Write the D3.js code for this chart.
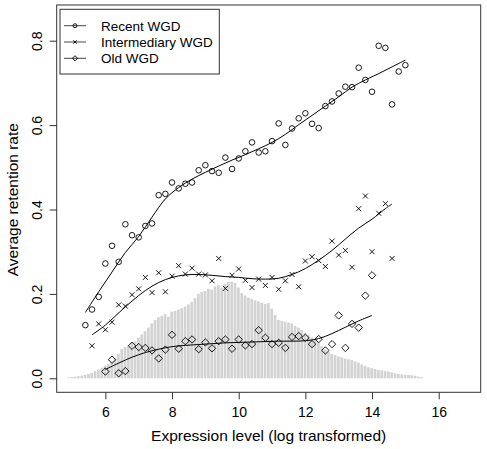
<!DOCTYPE html>
<html><head><meta charset="utf-8">
<script src="https://cdn.jsdelivr.net/npm/d3@7"></script>
<style>body{margin:0;background:#fff}svg{display:block}text{font-family:"Liberation Sans",Arial,sans-serif;fill:#000}</style>
</head><body><svg id="c" width="487" height="449"></svg>
<script>
// ---- data ----
const xTicks = [6, 8, 10, 12, 14, 16];
const yTicks = [0, 0.2, 0.4, 0.6, 0.8];
const seriesNames = ["Recent WGD", "Intermediary WGD", "Old WGD"];

const recentX = [5.4,5.6,5.8,6.0,6.2,6.4,6.6,6.8,7.0,7.2,7.4,7.6,7.8,8.0,8.2,8.4,8.6,8.8,9.0,9.2,9.4,9.6,9.8,10.0,10.2,10.4,10.6,10.8,11.0,11.2,11.4,11.6,11.8,12.0,12.2,12.4,12.6,12.8,13.0,13.2,13.4,13.6,13.8,14.0,14.2,14.4,14.6,14.8,15.0];
const recentY = [0.126,0.163,0.193,0.272,0.314,0.276,0.365,0.339,0.334,0.361,0.367,0.434,0.437,0.464,0.450,0.461,0.464,0.493,0.505,0.491,0.487,0.523,0.496,0.521,0.538,0.559,0.535,0.538,0.562,0.604,0.553,0.592,0.616,0.628,0.603,0.593,0.645,0.656,0.675,0.691,0.690,0.736,0.707,0.679,0.788,0.783,0.649,0.727,0.742];

const interX = [5.6,5.8,6.0,6.2,6.4,6.6,6.8,7.0,7.2,7.4,7.6,7.8,8.0,8.2,8.4,8.6,8.8,9.0,9.2,9.4,9.6,9.8,10.0,10.2,10.4,10.6,10.8,11.0,11.2,11.4,11.6,11.8,12.0,12.2,12.4,12.6,12.8,13.0,13.2,13.4,13.6,13.8,14.0,14.2,14.4,14.6];
const interY = [0.077,0.129,0.115,0.133,0.174,0.171,0.198,0.212,0.239,0.203,0.250,0.205,0.242,0.267,0.247,0.261,0.247,0.245,0.231,0.284,0.213,0.244,0.259,0.232,0.215,0.235,0.220,0.239,0.211,0.231,0.246,0.217,0.278,0.288,0.279,0.265,0.325,0.292,0.303,0.263,0.402,0.432,0.300,0.391,0.414,0.284];

const oldX = [6.0,6.2,6.4,6.6,6.8,7.0,7.2,7.4,7.6,7.8,8.0,8.2,8.4,8.6,8.8,9.0,9.2,9.4,9.6,9.8,10.0,10.2,10.4,10.6,10.8,11.0,11.2,11.4,11.6,11.8,12.0,12.2,12.4,12.6,12.8,13.0,13.2,13.4,13.6,13.8,14.0];
const oldY = [0.016,0.044,0.012,0.017,0.077,0.074,0.072,0.066,0.047,0.068,0.103,0.070,0.088,0.092,0.069,0.085,0.071,0.088,0.092,0.070,0.092,0.078,0.081,0.114,0.096,0.081,0.084,0.072,0.098,0.100,0.096,0.081,0.093,0.066,0.081,0.149,0.072,0.129,0.120,0.196,0.244];

// smoothed (fitted) curves
const recentFitX = [5.4,5.8,6.2,6.6,7.0,7.4,7.8,8.2,8.6,9.0,9.4,9.8,10.2,10.6,11.0,11.4,11.8,12.2,12.6,13.0,13.4,13.8,14.2,14.6,15.0];
const recentFitY = [0.156,0.205,0.252,0.298,0.336,0.382,0.425,0.452,0.472,0.488,0.503,0.517,0.530,0.544,0.559,0.578,0.601,0.623,0.645,0.667,0.690,0.707,0.722,0.738,0.754];
const interFitX = [5.6,6.0,6.4,6.8,7.2,7.6,8.0,8.4,8.8,9.2,9.6,10.0,10.4,10.8,11.2,11.6,12.0,12.4,12.8,13.2,13.6,14.0,14.4,14.6];
const interFitY = [0.103,0.126,0.155,0.183,0.208,0.227,0.239,0.245,0.246,0.244,0.241,0.239,0.236,0.235,0.237,0.246,0.260,0.280,0.303,0.330,0.356,0.377,0.402,0.413];
const oldFitX = [6.0,6.4,6.8,7.2,7.6,8.0,8.4,8.8,9.2,9.6,10.0,10.4,10.8,11.2,11.6,12.0,12.4,12.8,13.2,13.6,14.0];
const oldFitY = [0.021,0.036,0.050,0.061,0.069,0.075,0.078,0.080,0.082,0.084,0.085,0.086,0.087,0.088,0.088,0.089,0.094,0.106,0.121,0.136,0.149];

// background histogram of expression level (scaled), bins of 0.1 starting at 4.85
const histStart = 4.85, histBin = 0.1;
const histHeights = [0.002,0.003,0.004,0.005,0.006,0.008,0.010,0.013,0.017,0.021,0.025,0.030,0.034,0.040,0.048,0.058,0.070,0.074,0.078,0.085,0.088,0.096,0.104,0.112,0.120,0.130,0.138,0.145,0.148,0.152,0.146,0.158,0.160,0.163,0.166,0.170,0.175,0.181,0.190,0.200,0.205,0.207,0.212,0.210,0.218,0.221,0.215,0.224,0.228,0.229,0.226,0.215,0.202,0.196,0.191,0.188,0.185,0.182,0.179,0.176,0.178,0.165,0.150,0.138,0.136,0.134,0.132,0.130,0.124,0.120,0.114,0.108,0.103,0.097,0.092,0.085,0.076,0.068,0.062,0.058,0.055,0.052,0.050,0.047,0.045,0.043,0.040,0.037,0.033,0.029,0.026,0.024,0.022,0.020,0.019,0.017,0.016,0.014,0.012,0.010,0.009,0.008,0.008,0.007,0.006,0.004,0.003];

// ---- drawing ----
const svg = d3.select("#c");
const L = 56.7, R = 480.7, T = 5, B = 392.3;
const x = d3.scaleLinear().domain([4.54, 17.26]).range([L, R]);
const y = d3.scaleLinear().domain([-0.0332, 0.8846]).range([B, T]);

// histogram
const bw = x(histBin) - x(0);
svg.append("g").selectAll("rect").data(histHeights).join("rect")
  .attr("x", (d, i) => x(histStart + i * histBin))
  .attr("width", bw - 0.6)
  .attr("y", d => y(d))
  .attr("height", d => y(0) - y(d))
  .attr("fill", "#d3d3d3");

// fitted curves
const line = d3.line().x(d => x(d[0])).y(d => y(d[1])).curve(d3.curveCatmullRom.alpha(0.5));
[[recentFitX, recentFitY], [interFitX, interFitY], [oldFitX, oldFitY]].forEach(([xs, ys]) => {
  svg.append("path").datum(xs.map((v, i) => [v, ys[i]]))
    .attr("d", line).attr("fill", "none").attr("stroke", "#000").attr("stroke-width", 1);
});

// symbols
function drawSym(g, kind, cx, cy, s) {
  if (kind === 0) {
    g.append("circle").attr("cx", cx).attr("cy", cy).attr("r", 2.8 * s)
      .attr("fill", "none").attr("stroke", "#000").attr("stroke-width", 0.9);
  } else if (kind === 1) {
    const h = 2.5 * s;
    g.append("path").attr("d", `M${cx-h},${cy-h}L${cx+h},${cy+h}M${cx-h},${cy+h}L${cx+h},${cy-h}`)
      .attr("stroke", "#000").attr("stroke-width", 0.9).attr("fill", "none");
  } else {
    const h = 3.7 * s;
    g.append("path").attr("d", `M${cx},${cy-h}L${cx+h},${cy}L${cx},${cy+h}L${cx-h},${cy}Z`)
      .attr("stroke", "#000").attr("stroke-width", 0.9).attr("fill", "none");
  }
}
const pts = svg.append("g");
[[recentX, recentY], [interX, interY], [oldX, oldY]].forEach(([xs, ys], k) => {
  xs.forEach((v, i) => drawSym(pts, k, x(v), y(ys[i]), 1));
});

// box
svg.append("rect").attr("x", L).attr("y", T).attr("width", R - L).attr("height", B - T)
  .attr("fill", "none").attr("stroke", "#333").attr("stroke-width", 1);

// x axis
const gx = svg.append("g").attr("transform", `translate(0,${B})`)
  .call(d3.axisBottom(x).tickValues(xTicks).tickSize(7).tickFormat(d3.format("d")));
gx.select(".domain").remove();
gx.selectAll("line").attr("stroke", "#333");
gx.selectAll("text").attr("y", 24.4).attr("dy", 0).style("font-size", "14px")
  .style("font-family", '"Liberation Sans",Arial,sans-serif').attr("fill", "#000");

// y axis
const gy = svg.append("g").attr("transform", `translate(${L},0)`)
  .call(d3.axisLeft(y).tickValues(yTicks).tickSize(7).tickFormat(d3.format(".1f")));
gy.select(".domain").remove();
gy.selectAll("line").attr("stroke", "#333");
gy.selectAll("text").attr("x", 0).attr("dy", 0)
  .attr("transform", "translate(-14.7,0) rotate(-90)")
  .attr("text-anchor", "middle").style("font-size", "14px")
  .style("font-family", '"Liberation Sans",Arial,sans-serif').attr("fill", "#000");

// titles
svg.append("text").attr("x", (L + R) / 2).attr("y", 441).attr("text-anchor", "middle")
  .style("font-size", "15.5px").text("Expression level (log transformed)");
svg.append("text").attr("transform", `translate(17.5,${(T + B) / 2 + 1}) rotate(-90)`)
  .attr("text-anchor", "middle").style("font-size", "15.5px").text("Average retention rate");

// legend
const lg = svg.append("g");
lg.append("rect").attr("x", 60).attr("y", 9.3).attr("width", 159.3).attr("height", 64.7)
  .attr("fill", "#fff").attr("stroke", "#333").attr("stroke-width", 1);
const legY = [25.7, 42.0, 58.3];
seriesNames.forEach((name, k) => {
  lg.append("line").attr("x1", 64).attr("x2", 86).attr("y1", legY[k]).attr("y2", legY[k])
    .attr("stroke", "#444").attr("stroke-width", 1);
  drawSym(lg, k, 75, legY[k], 0.7);
  lg.append("text").attr("x", 101).attr("y", legY[k] + 4.8).style("font-size", "13.5px").text(name);
});
</script></body></html>
